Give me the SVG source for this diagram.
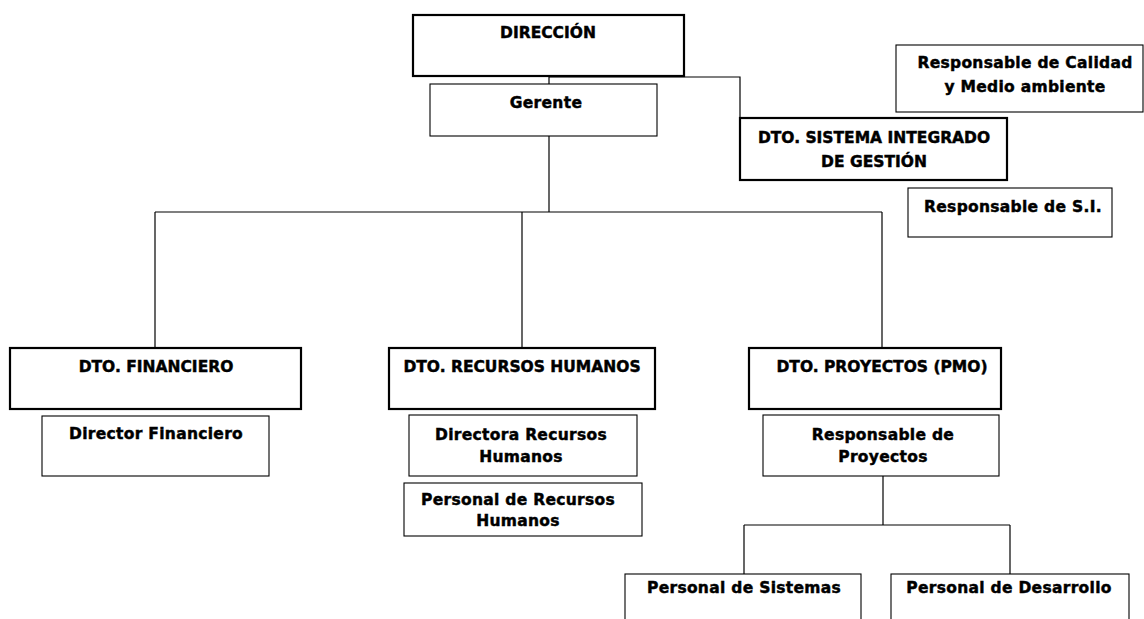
<svg xmlns="http://www.w3.org/2000/svg" width="1144" height="619" viewBox="0 0 1144 619">
  <style>
    .dept { fill: #ffffff; stroke: #000000; stroke-width: 2.2; }
    .role { fill: #ffffff; stroke: #000000; stroke-width: 1.1; }
    .lbl { font-family: "DejaVu Sans", "Liberation Sans", sans-serif; font-weight: bold; font-size: 15.5px; fill: #000000; stroke: #000000; stroke-width: 0.45; text-anchor: middle; }
    .lc { letter-spacing: 0.3px; }
    .wire { fill: none; stroke: #000000; stroke-width: 1.2; }
  </style>
  <rect width="1144" height="619" fill="#ffffff"/>

  <!-- connectors -->
  <g id="connectors">
    <path class="wire" d="M549,76 V84"/>
    <path class="wire" d="M549,77 H740 V149"/>
    <path class="wire" d="M549,136 V212"/>
    <path class="wire" d="M155,212 H882"/>
    <path class="wire" d="M155,212 V348"/>
    <path class="wire" d="M522,212 V348"/>
    <path class="wire" d="M882,212 V348"/>
    <path class="wire" d="M883,476 V525"/>
    <path class="wire" d="M744,525 H1010"/>
    <path class="wire" d="M744,525 V574"/>
    <path class="wire" d="M1010,525 V574"/>
  </g>

  <g id="direccion">
    <rect class="dept" x="413" y="15" width="271" height="61"/>
    <text class="lbl" x="548" y="38">DIRECCIÓN</text>
  </g>

  <g id="gerente">
    <rect class="role" x="430" y="84" width="227" height="52"/>
    <text class="lbl lc" x="546" y="108">Gerente</text>
  </g>

  <g id="resp-calidad">
    <rect class="role" x="896" y="45" width="247" height="67"/>
    <text class="lbl lc" x="1025" y="68">Responsable de Calidad</text>
    <text class="lbl lc" x="1025" y="92">y Medio ambiente</text>
  </g>

  <g id="dto-sig">
    <rect class="dept" x="740" y="118" width="267" height="62"/>
    <text class="lbl" x="874" y="143">DTO. SISTEMA INTEGRADO</text>
    <text class="lbl" x="874" y="167">DE GESTIÓN</text>
  </g>

  <g id="resp-si">
    <rect class="role" x="908" y="188" width="204" height="49"/>
    <text class="lbl lc" x="1013" y="212">Responsable de S.I.</text>
  </g>

  <g id="dto-financiero">
    <rect class="dept" x="10" y="348" width="291" height="61"/>
    <text class="lbl" x="156" y="372">DTO. FINANCIERO</text>
  </g>

  <g id="director-financiero">
    <rect class="role" x="42" y="416" width="227" height="60"/>
    <text class="lbl lc" x="156" y="439">Director Financiero</text>
  </g>

  <g id="dto-rrhh">
    <rect class="dept" x="389" y="348" width="266" height="61"/>
    <text class="lbl" x="522" y="372">DTO. RECURSOS HUMANOS</text>
  </g>

  <g id="directora-rrhh">
    <rect class="role" x="409" y="415" width="228" height="61"/>
    <text class="lbl lc" x="521" y="440">Directora Recursos</text>
    <text class="lbl lc" x="521" y="462">Humanos</text>
  </g>

  <g id="personal-rrhh">
    <rect class="role" x="404" y="483" width="238" height="53"/>
    <text class="lbl lc" x="518" y="505">Personal de Recursos</text>
    <text class="lbl lc" x="518" y="526">Humanos</text>
  </g>

  <g id="dto-proyectos">
    <rect class="dept" x="749" y="348" width="252" height="61"/>
    <text class="lbl" x="882" y="372">DTO. PROYECTOS (PMO)</text>
  </g>

  <g id="resp-proyectos">
    <rect class="role" x="763" y="415" width="236" height="61"/>
    <text class="lbl lc" x="883" y="440">Responsable de</text>
    <text class="lbl lc" x="883" y="462">Proyectos</text>
  </g>

  <g id="personal-sistemas">
    <rect class="role" x="625" y="574" width="236" height="70"/>
    <text class="lbl lc" x="744" y="593">Personal de Sistemas</text>
  </g>

  <g id="personal-desarrollo">
    <rect class="role" x="891" y="574" width="238" height="70"/>
    <text class="lbl lc" x="1009" y="593">Personal de Desarrollo</text>
  </g>
</svg>
